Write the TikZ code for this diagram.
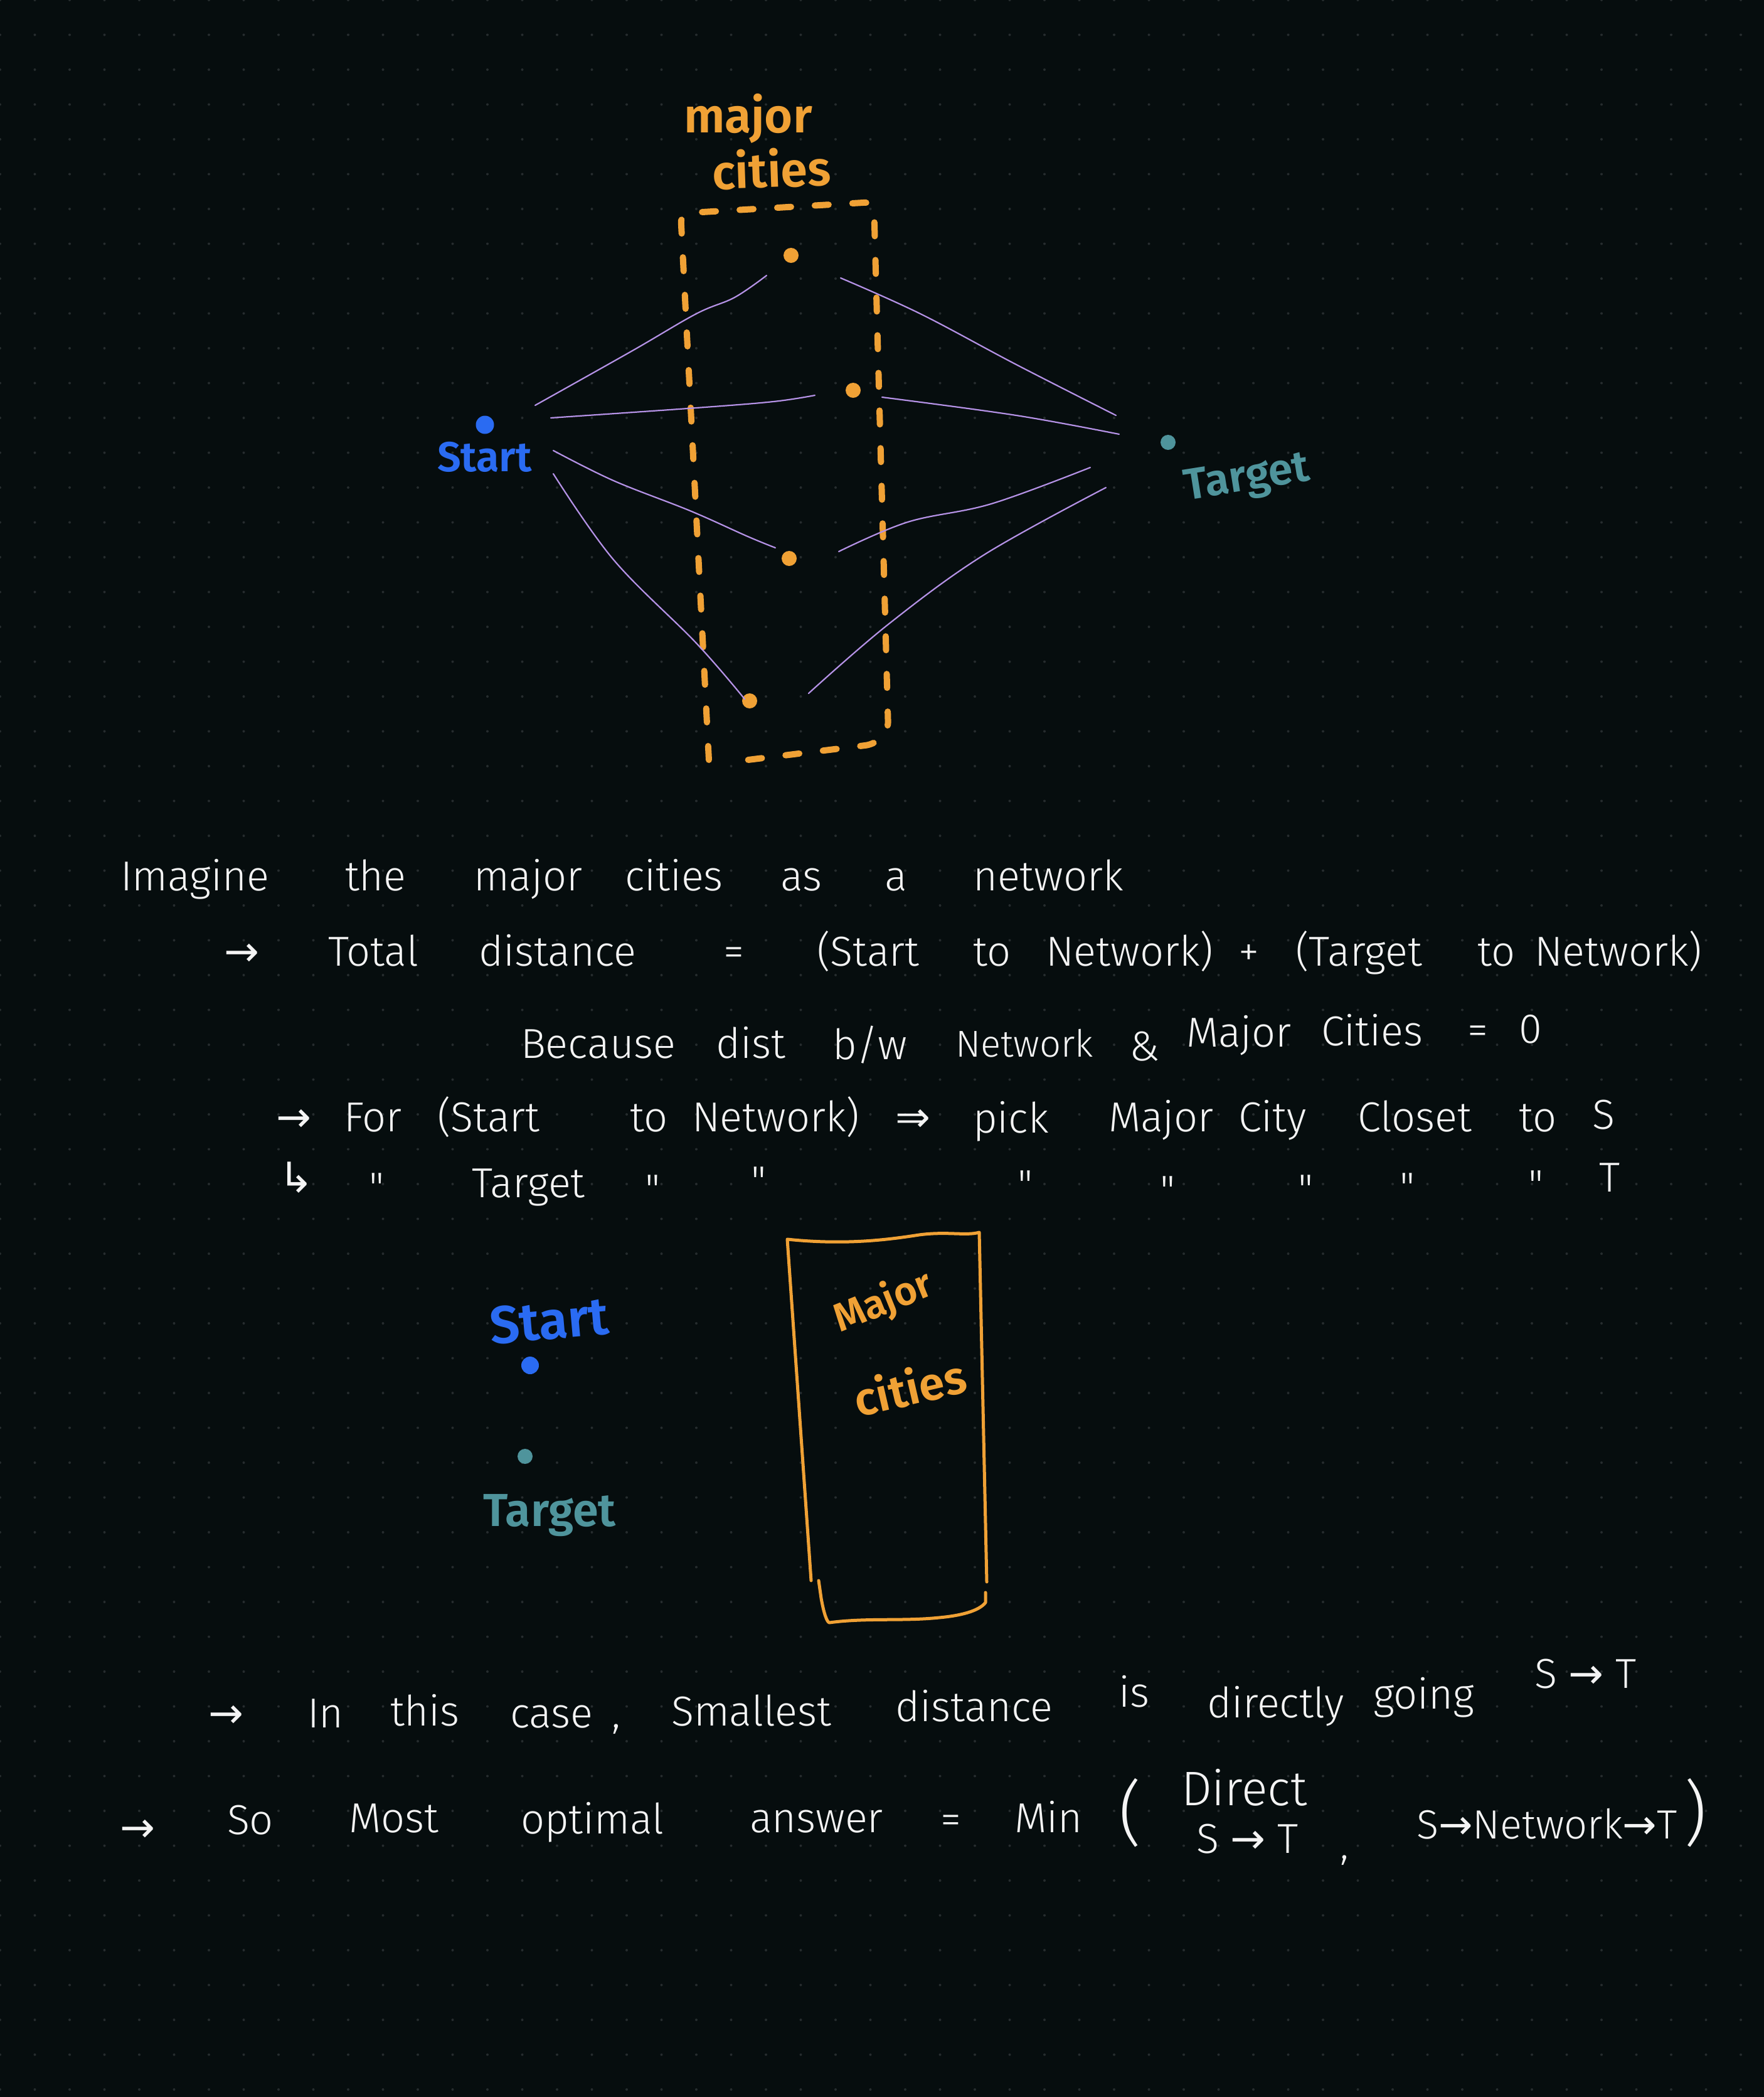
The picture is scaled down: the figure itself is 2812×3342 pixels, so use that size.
\documentclass[tikz,border=0pt]{standalone}
\usepackage{fontspec}
\newfontfamily\handL{Fira Sans Light}
\newfontfamily\handB{Fira Sans SemiBold}
\newfontfamily\sym{DejaVu Sans}
\definecolor{bgc}{HTML}{060D0E}
\definecolor{dotc}{HTML}{262C2E}
\definecolor{corange}{HTML}{F0A135}
\definecolor{cblue}{HTML}{2A6BF2}
\definecolor{cteal}{HTML}{4F949C}
\definecolor{cpurple}{HTML}{B592E6}
\definecolor{cwhite}{HTML}{F4F4F4}
\begin{document}
\begin{tikzpicture}[x=0.1mm,y=-0.1mm,
  hw/.style={font=\handL\fontsize{19}{23}\selectfont, text=cwhite, anchor=base west, inner sep=0pt, outer sep=0pt},
  hwbig/.style={hw, font=\handL\fontsize{32}{36}\selectfont},
  lbl/.style={font=\handB\fontsize{#1}{#1}\selectfont, anchor=base west, inner sep=0pt, outer sep=0pt},
  conn/.style={draw=cpurple, line width=0.22mm, line cap=round},
  city/.style={circle, fill=corange, inner sep=0pt, minimum size=2.4mm},
  dashbox/.style={draw=corange, line width=1mm, line cap=round, dash pattern=on 2.2mm off 3.8mm, rounded corners=1.5mm},
  solidbox/.style={draw=corange, line width=0.5mm, line cap=round, line join=round},
]
\useasboundingbox (0,0) rectangle (2812,3342);
\fill[bgc] (0,0) rectangle (2812,3342);
\foreach \i in {0,...,50}{
  \foreach \j in {0,...,60}{
    \fill[dotc] (\i*55.5,\j*55.5) circle (0.2mm);
  }
}

% ---------- top diagram ----------
\node[lbl=22, text=corange] (mj) at (1090,211) {major};
\node[lbl=22, text=corange, rotate=2] (ct) at (1136,302) {cities};

\draw[dashbox] (1130,1211) -- (1085,340) -- (1393,322) -- (1416,1165) -- (1395,1186) -- (1160,1215);

\node[city] (c1) at (1261,407) {};
\node[city] (c2) at (1360,622) {};
\node[city] (c3) at (1258,890) {};
\node[city] (c4) at (1195,1117) {};

\node[circle, fill=cblue, inner sep=0pt, minimum size=2.9mm] (s) at (773,677) {};
\node[lbl=19, text=cblue] (st) at (697,751) {Start};
\node[circle, fill=cteal, inner sep=0pt, minimum size=2.4mm] (t) at (1862,705) {};
\node[lbl=20, text=cteal, rotate=9] (tg) at (1891,797) {Target};

\draw[conn] plot[smooth, tension=0.6] coordinates {(853,646) (1008,559) (1110,500) (1171,474) (1222,439)};
\draw[conn] plot[smooth, tension=0.6] coordinates {(878,666) (1110,650) (1233,640) (1299,630)};
\draw[conn] plot[smooth, tension=0.6] coordinates {(882,718) (978,766) (1100,814) (1192,855) (1236,873)};
\draw[conn] plot[smooth, tension=0.6] coordinates {(882,755) (978,892) (1110,1025) (1187,1114)};
\draw[conn] plot[smooth, tension=0.6] coordinates {(1340,443) (1467,500) (1620,581) (1779,662)};
\draw[conn] plot[smooth, tension=0.6] coordinates {(1406,633) (1620,662) (1784,692)};
\draw[conn] plot[smooth, tension=0.6] coordinates {(1337,879) (1447,832) (1580,803) (1738,745)};
\draw[conn] plot[smooth, tension=0.6] coordinates {(1289,1105) (1416,995) (1569,884) (1763,777)};

% ---------- text lines ----------
\node[hw] (l1a) at (192,1419) {Imagine};
\node[hw] (l1b) at (550,1419) {the};
\node[hw] (l1c) at (755,1419) {major};
\node[hw] (l1d) at (996,1419) {cities};
\node[hw] (l1e) at (1244,1419) {as};
\node[hw] (l1f) at (1410,1419) {a};
\node[hw] (l1g) at (1551,1419) {network};

\node[hw] (l2a) at (357,1539) {\sym →};
\node[hw] (l2b) at (523,1539) {Total};
\node[hw] (l2c) at (763,1539) {distance};
\node[hw] (l2d) at (1153,1539) {=};
\node[hw] (l2e) at (1302,1539) {(Start};
\node[hw] (l2f) at (1551,1539) {to};
\node[hw] (l2g) at (1667,1539) {Network)};
\node[hw] (l2h) at (1974,1539) {+};
\node[hw] (l2i) at (2065,1539) {(Target};
\node[hw] (l2j) at (2355,1539) {to};
\node[hw] (l2k) at (2446,1539) {Network)};

\node[hw] (l3a) at (830,1686) {Because};
\node[hw] (l3b) at (1141,1686) {dist};
\node[hw] (l3c) at (1327,1688) {b/w};
\node[hw, font=\handL\fontsize{17}{20}\selectfont] (l3d) at (1523,1684) {Network};
\node[hw] (l3e) at (1800,1690) {\&};
\node[hw] (l3f) at (1891,1668) {Major};
\node[hw] (l3g) at (2106,1666) {Cities};
\node[hw] (l3h) at (2339,1664) {=};
\node[hw] (l3i) at (2421,1662) {0};

\node[hw] (l4a) at (440,1803) {\sym →};
\node[hw] (l4b) at (548,1803) {For};
\node[hw] (l4c) at (697,1803) {(Start};
\node[hw] (l4d) at (1004,1803) {to};
\node[hw] (l4e) at (1103,1803) {Network)};
\node[hw] (l4f) at (1427,1803) {\sym ⇒};
\node[hw] (l4g) at (1551,1805) {pick};
\node[hw] (l4h) at (1767,1803) {Major};
\node[hw] (l4i) at (1974,1803) {City};
\node[hw] (l4j) at (2164,1803) {Closet};
\node[hw] (l4k) at (2421,1803) {to};
\node[hw] (l4l) at (2538,1799) {S};

\node[hw] (l5a) at (444,1900) {\sym ↳};
\node[hw] (l5b) at (588,1915) {"};
\node[hw] (l5c) at (752,1908) {Target};
\node[hw] (l5d) at (1028,1918) {"};
\node[hw] (l5e) at (1197,1905) {"};
\node[hw] (l5f) at (1622,1911) {"};
\node[hw] (l5g) at (1849,1920) {"};
\node[hw] (l5h) at (2069,1918) {"};
\node[hw] (l5i) at (2231,1915) {"};
\node[hw] (l5j) at (2436,1911) {"};
\node[hw] (l5k) at (2549,1899) {T};

% ---------- bottom diagram ----------
\node[lbl=24, text=cblue, rotate=5] (st2) at (783,2142) {Start};
\node[circle, fill=cblue, inner sep=0pt, minimum size=2.8mm] (s2) at (845,2176) {};
\node[circle, fill=cteal, inner sep=0pt, minimum size=2.4mm] (t2) at (837,2321) {};
\node[lbl=21, text=cteal] (tg2) at (770,2432) {Target};

\draw[solidbox] (1293,2519) -- (1255,1975) .. controls (1350,1985) and (1420,1975) .. (1465,1968) .. controls (1510,1962) and (1540,1970) .. (1561,1964) -- (1573,2521);
\draw[solidbox] (1305,2519) -- (1309,2547) .. controls (1313,2570) and (1318,2585) .. (1322,2586) .. controls (1380,2578) and (1440,2584) .. (1497,2578) .. controls (1530,2575) and (1560,2568) .. (1571,2554) -- (1571,2538);
\node[lbl=18, text=corange, rotate=22, anchor=center] (mj2) at (1408,2076) {Major};
\node[lbl=21, text=corange, rotate=13, anchor=center] (ct2) at (1450,2210) {cities};

% ---------- bottom text ----------
\node[hw] (l6a) at (332,2753) {\sym →};
\node[hw] (l6b) at (490,2753) {In};
\node[hw] (l6c) at (622,2750) {this};
\node[hw] (l6d) at (813,2753) {case};
\node[hw] (l6e) at (975,2753) {,};
\node[hw] (l6f) at (1070,2750) {Smallest};
\node[hw] (l6g) at (1427,2743) {distance};
\node[hw] (l6h) at (1783,2720) {is};
\node[hw] (l6i) at (1924,2737) {directly};
\node[hw] (l6j) at (2189,2723) {going};
\node[hw] (l6k) at (2446,2690) {S {\sym →} T};

\node[hw] (l7a) at (191,2935) {\sym →};
\node[hw] (l7b) at (362,2923) {So};
\node[hw] (l7c) at (556,2920) {Most};
\node[hw] (l7d) at (830,2922) {optimal};
\node[hw] (l7e) at (1195,2920) {answer};
\node[hw] (l7f) at (1499,2922) {=};
\node[hw] (l7g) at (1617,2920) {Min};
\node[hwbig] (l7h) at (1783,2928) {(};
\node[hw, font=\handL\fontsize{22}{26}\selectfont] (l7i) at (1883,2877) {Direct};
\node[hw] (l7j) at (1907,2953) {S {\sym →} T};
\node[hw] (l7k) at (2136,2962) {,};
\node[hw, font=\handL\fontsize{18.5}{22}\selectfont] (l7l) at (2258,2930) {S{\sym →}Network{\sym →}T};
\node[hwbig] (l7m) at (2684,2928) {)};
\end{tikzpicture}
\end{document}
